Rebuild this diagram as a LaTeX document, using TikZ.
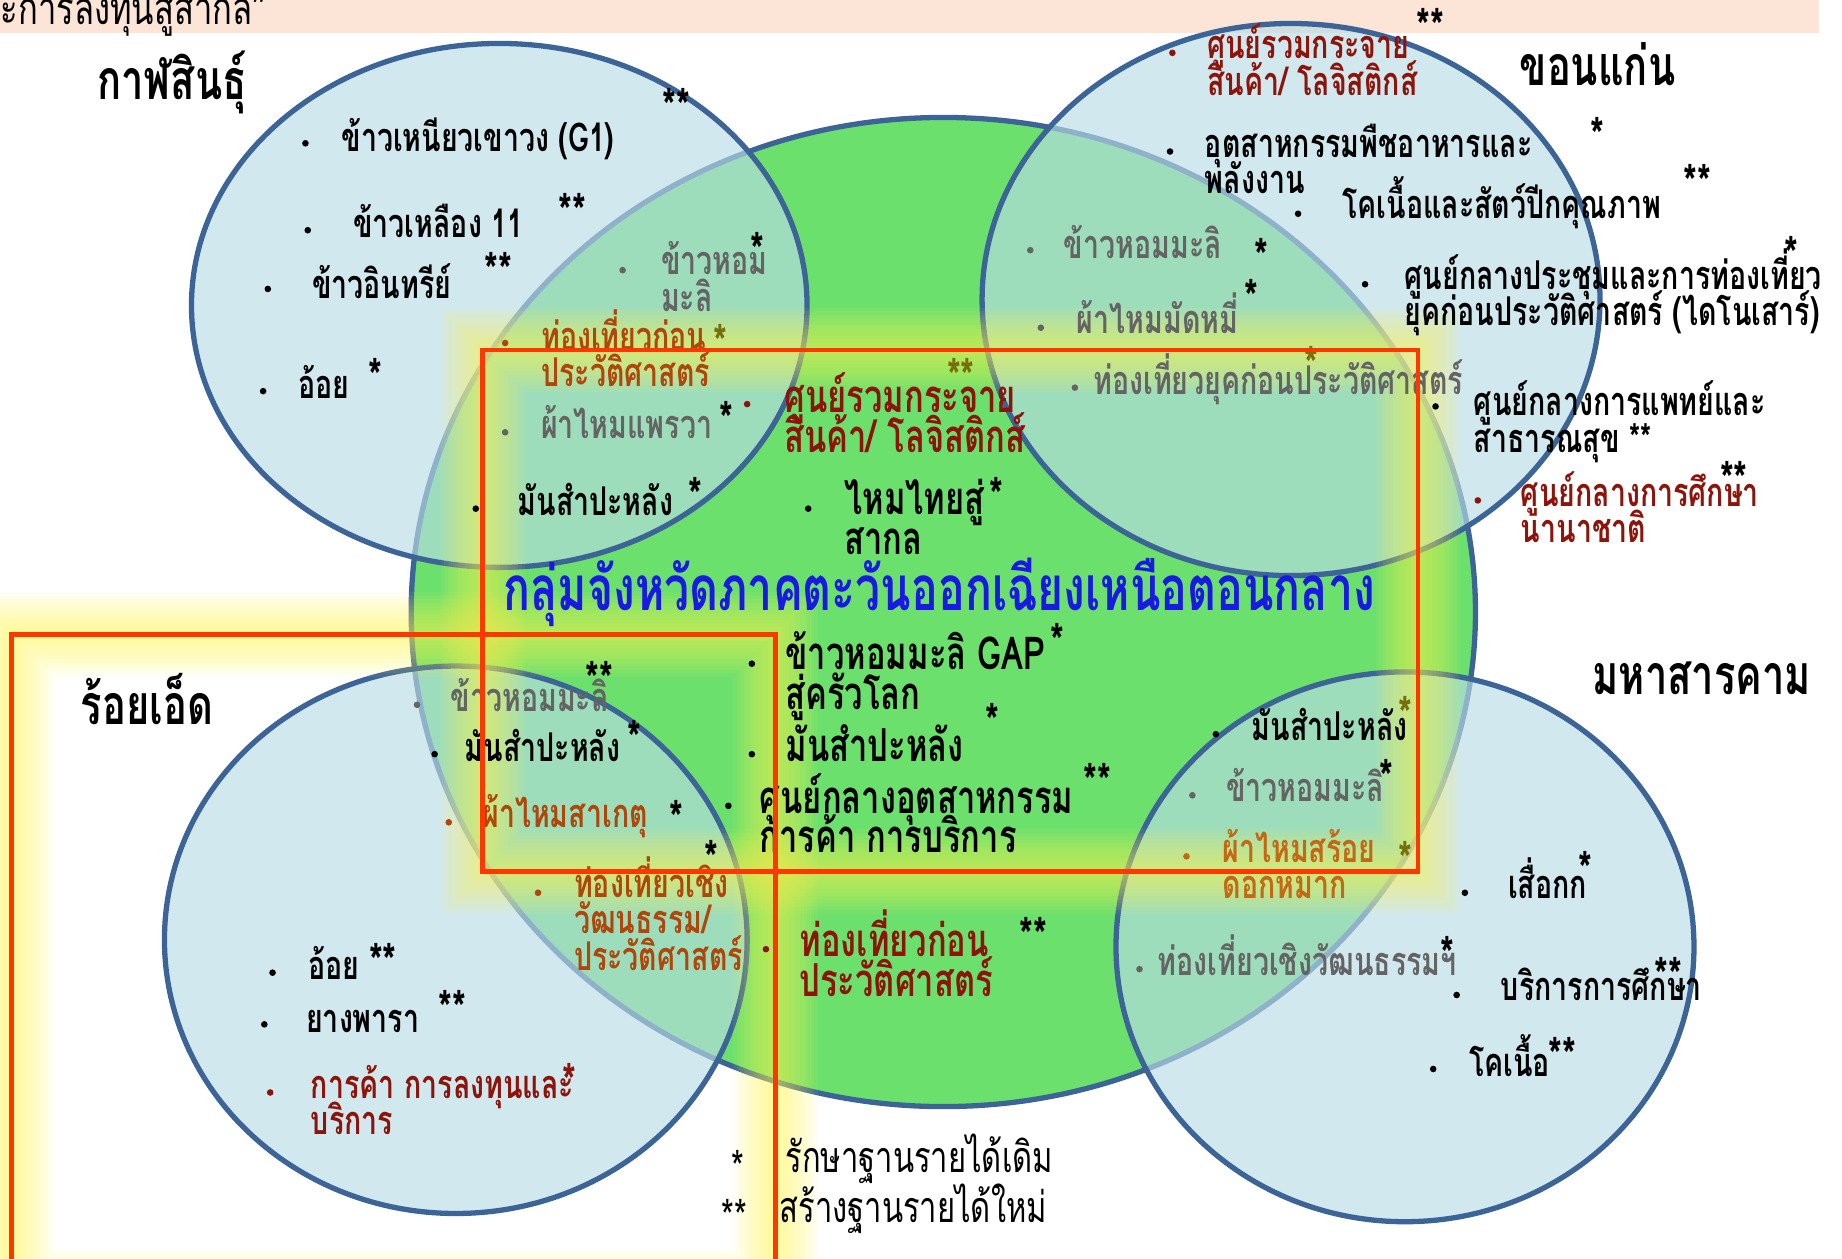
\documentclass[tikz,border=0pt]{standalone}
\usepackage{fontspec}
\usetikzlibrary{positioning}
\newfontfamily\thai[Script=Thai,FakeStretch=0.72]{Loma}
\newcommand{\tightlines}{\lineskiplimit=-100pt\lineskip=0pt\relax}
\definecolor{circblue}{RGB}{185,220,230}
\definecolor{rimblue}{RGB}{60,100,150}
\definecolor{midgreen}{RGB}{108,224,108}
\definecolor{darkred}{RGB}{140,20,10}
\definecolor{softgrey}{RGB}{100,100,100}
\definecolor{rust}{RGB}{175,70,10}
\definecolor{amber}{RGB}{195,105,20}
\definecolor{olive}{RGB}{120,110,10}
\definecolor{titleblue}{RGB}{25,25,225}
\definecolor{peach}{RGB}{252,228,214}
\definecolor{boxred}{RGB}{255,55,0}
\definecolor{glowyel}{RGB}{255,245,80}

\tikzset{
  item/.style={anchor=base west, inner sep=0pt, align=left,
    font=\thai\bfseries\fontsize{9.6}{8.8}\selectfont\tightlines},
  bigitem/.style={item, font=\thai\bfseries\fontsize{11}{9.6}\selectfont\tightlines},
  prov/.style={item, font=\thai\bfseries\fontsize{13.4}{12}\selectfont},
  note/.style={item, font=\thai\fontsize{10.4}{10}\selectfont},
  star/.style={inner sep=0pt, yshift=-2.4pt, font=\thai\bfseries\fontsize{12}{12}\selectfont},
  region/.style={fill=circblue, fill opacity=0.65, draw=rimblue, draw opacity=1, line width=0.45mm},
}

\begin{document}
\begin{tikzpicture}[x=0.01cm, y=-0.01cm]
  \useasboundingbox (0,0) rectangle (1568,1071);

  \fill[peach] (0,0) rectangle (1548,28);
  \node[note, font=\thai\fontsize{11}{10}\selectfont] (head) at (0,21) {ะการลงทุนสู่สากล”};

  %% big circle and the four provinces
  \draw[fill=midgreen, draw=rimblue, line width=0.45mm] (803,521) ellipse [x radius=453, y radius=421];
  \draw[region] (425,260) ellipse [x radius=262, y radius=223]; %% kalasin
  \draw[region] (1099,255) ellipse [x radius=263, y radius=235]; %% khon kaen
  \draw[region] (388,800) ellipse [x radius=248, y radius=233]; %% roi et
  \draw[region] (1196,806) ellipse [x radius=246, y radius=234]; %% maha sarakham

  %% soft glow round the two frames
  \foreach \w in {6,12,...,72}{
    \draw[glowyel, draw opacity=0.065, line width=\w*0.1mm] (411,298) rectangle (1207,742);
    \draw[glowyel, draw opacity=0.065, line width=\w*0.1mm] (10,540) rectangle (660,1100);
  }

  %% kalasin
  \node[prov] (kal) at (82,85) {กาฬสินธุ์};
  \fill (260,122) circle (0.8pt);
  \node[item] (kal1) at (290,129) {ข้าวเหนียวเขาวง (G1)};
  \node[star] (kal1s) at (576,82) {**};
  \fill (262,196) circle (0.8pt);
  \node[item] (kal2) at (300,202) {ข้าวเหลือง 11};
  \node[star] (kal2s) at (487,172) {**};
  \fill (228,246) circle (0.8pt);
  \node[item] (kal3) at (265,254) {ข้าวอินทรีย์};
  \node[star] (kal3s) at (424,222) {**};
  \fill (224,333) circle (0.8pt);
  \node[item] (kal4) at (253,339) {อ้อย};
  \node[star] (kal4s) at (320,312) {*};
  \fill[softgrey] (530,230) circle (0.8pt);
  \node[item, text=softgrey] (kal5) at (562,265) {ข้าวหอม\\มะลิ};
  \node[star] (kal5s) at (645,205) {*};
  \fill[rust] (430,292) circle (0.8pt);
  \node[item, text=rust] (kal6) at (460,329) {ท่องเที่ยวก่อน\\ประวัติศาสตร์};
  \node[star, text=olive] (kal6s) at (613,283) {*};
  \fill[softgrey] (430,368) circle (0.8pt);
  \node[item, text=softgrey] (kal7) at (460,373) {ผ้าไหมแพรวา};
  \node[star] (kal7s) at (618,349) {*};
  \fill (405,433) circle (0.8pt);
  \node[item] (kal8) at (440,439) {มันสำปะหลัง};
  \node[star] (kal8s) at (592,413) {*};

  %% the group in the middle
  \fill[darkred] (636,344) circle (0.8pt);
  \node[bigitem, text=darkred] (mid1) at (667,385) {ศูนย์รวมกระจาย\\สินค้า/ โลจิสติกส์};
  \node[star, text=olive] (mid1s) at (818,312) {**};
  \fill (688,433) circle (0.8pt);
  \node[bigitem] (mid2) at (718,472) {ไหมไทยสู่\\สากล};
  \node[star] (mid2s) at (848,413) {*};
  \node[item, font=\thai\bfseries\fontsize{15}{14}\selectfont, text=titleblue] (group) at (428,520)
    {กลุ่มจังหวัดภาคตะวันออกเฉียงเหนือตอนกลาง};
  \fill (640,565) circle (0.8pt);
  \node[bigitem] (mid3) at (668,604) {ข้าวหอมมะลิ GAP\\สู่ครัวโลก};
  \node[star] (mid3s) at (900,538) {*};
  \fill (640,642) circle (0.8pt);
  \node[bigitem] (mid4) at (668,648) {มันสำปะหลัง};
  \node[star] (mid4s) at (845,606) {*};
  \fill (620,686) circle (0.8pt);
  \node[bigitem] (mid5) at (646,726) {ศูนย์กลางอุตสาหกรรม\\การค้า การบริการ};
  \node[star] (mid5s) at (934,657) {**};
  \fill[darkred] (652,808) circle (0.8pt);
  \node[bigitem, text=darkred] (mid6) at (680,848) {ท่องเที่ยวก่อน\\ประวัติศาสตร์};
  \node[star] (mid6s) at (880,788) {**};

  %% khon kaen
  \node[prov] (kkn) at (1293,73) {ขอนแก่น};
  \fill[darkred] (998,45) circle (0.8pt);
  \node[item, text=darkred] (kkn1) at (1027,81) {ศูนย์รวมกระจาย\\สินค้า/ โลจิสติกส์};
  \node[star] (kkn1s) at (1218,14) {**};
  \fill (996,129) circle (0.8pt);
  \node[item] (kkn2) at (1025,165) {อุตสาหกรรมพืชอาหารและ\\พลังงาน};
  \node[star] (kkn2s) at (1360,107) {*};
  \fill (1105,182) circle (0.8pt);
  \node[item] (kkn3) at (1142,186) {โคเนื้อและสัตว์ปีกคุณภาพ};
  \node[star] (kkn3s) at (1445,147) {**};
  \fill[softgrey] (877,213) circle (0.8pt);
  \node[item, text=softgrey] (kkn4) at (905,220) {ข้าวหอมมะลิ};
  \node[star] (kkn4s) at (1074,210) {*};
  \fill (1162,242) circle (0.8pt);
  \node[item] (kkn5) at (1195,277) {ศูนย์กลางประชุมและการท่องเที่ยว\\ยุคก่อนประวัติศาสตร์ (ไดโนเสาร์)};
  \node[star] (kkn5s) at (1525,208) {*};
  \fill[softgrey] (886,279) circle (0.8pt);
  \node[item, text=softgrey] (kkn6) at (916,284) {ผ้าไหมมัดหมี่};
  \node[star] (kkn6s) at (1065,245) {*};
  \fill[softgrey] (915,330) circle (0.8pt);
  \node[item, text=softgrey] (kkn7) at (930,336) {ท่องเที่ยวยุคก่อนประวัติศาสตร์};
  \node[star, text=olive] (kkn7s) at (1116,302) {*};
  \fill (1222,346) circle (0.8pt);
  \node[item] (kkn8) at (1254,385) {ศูนย์กลางการแพทย์และ\\สาธารณสุข **};
  \fill[darkred] (1258,426) circle (0.8pt);
  \node[item, text=darkred] (kkn9) at (1294,462) {ศูนย์กลางการศึกษา\\นานาชาติ};
  \node[star] (kkn9s) at (1476,400) {**};

  %% roi et
  \node[prov] (ret) at (68,617) {ร้อยเอ็ด};
  \fill[softgrey] (355,600) circle (0.8pt);
  \node[item, text=softgrey] (ret1) at (383,606) {ข้าวหอมมะลิ};
  \node[star] (ret1s) at (510,570) {**};
  \fill (370,642) circle (0.8pt);
  \node[item] (ret2) at (395,648) {มันสำปะหลัง};
  \node[star] (ret2s) at (540,620) {*};
  \fill[rust] (382,700) circle (0.8pt);
  \node[item, text=rust] (ret3) at (410,704) {ผ้าไหมสาเกตุ};
  \node[star] (ret3s) at (576,688) {*};
  \fill[rust] (458,760) circle (0.8pt);
  \node[item, text=rust] (ret4) at (488,826) {ท่องเที่ยวเชิง\\วัฒนธรรม/\\ประวัติศาสตร์};
  \node[star] (ret4s) at (606,722) {*};
  \fill (232,828) circle (0.8pt);
  \node[item] (ret5) at (262,834) {อ้อย};
  \node[star] (ret5s) at (326,810) {**};
  \fill (225,872) circle (0.8pt);
  \node[item] (ret6) at (260,879) {ยางพารา};
  \node[star] (ret6s) at (385,850) {**};
  \fill[darkred] (230,930) circle (0.8pt);
  \node[item, text=darkred] (ret7) at (264,966) {การค้า การลงทุนและ\\บริการ};
  \node[star, text=darkred] (ret7s) at (485,912) {*};

  %% maha sarakham
  \node[prov] (mkm) at (1355,591) {มหาสารคาม};
  \fill (1035,625) circle (0.8pt);
  \node[item] (mkm1) at (1065,630) {มันสำปะหลัง};
  \node[star, text=olive] (mkm1s) at (1196,600) {*};
  \fill[softgrey] (1015,677) circle (0.8pt);
  \node[item, text=softgrey] (mkm2) at (1043,682) {ข้าวหอมมะลิ};
  \node[star] (mkm2s) at (1180,653) {*};
  \fill[amber] (1010,729) circle (0.8pt);
  \node[item, text=amber] (mkm3) at (1040,765) {ผ้าไหมสร้อย\\ดอกหมาก};
  \node[star, text=olive] (mkm3s) at (1196,723) {*};
  \fill (1247,760) circle (0.8pt);
  \node[item] (mkm4) at (1283,765) {เสื่อกก};
  \node[star] (mkm4s) at (1350,732) {*};
  \fill[softgrey] (970,825) circle (0.8pt);
  \node[item, text=softgrey] (mkm5) at (985,830) {ท่องเที่ยวเชิงวัฒนธรรมฯ};
  \node[star] (mkm5s) at (1232,804) {*};
  \fill (1240,847) circle (0.8pt);
  \node[item] (mkm6) at (1277,852) {บริการการศึกษา};
  \node[star] (mkm6s) at (1420,822) {**};
  \fill (1220,910) circle (0.8pt);
  \node[item] (mkm7) at (1250,916) {โคเนื้อ};
  \node[star] (mkm7s) at (1330,890) {**};

  %% key
  \node[star, font=\thai\fontsize{11}{11}\selectfont] (key1s) at (628,985) {*};
  \node[note] (key1) at (668,998) {รักษาฐานรายได้เดิม};
  \node[star, font=\thai\fontsize{11}{11}\selectfont] (key2s) at (625,1027) {**};
  \node[note] (key2) at (663,1041) {สร้างฐานรายได้ใหม่};

  %% the two frames
  \draw[boxred, line width=0.4mm] (411,298) rectangle (1207,742);
  \draw[boxred, line width=0.4mm] (10,540) rectangle (660,1100);
\end{tikzpicture}
\end{document}
